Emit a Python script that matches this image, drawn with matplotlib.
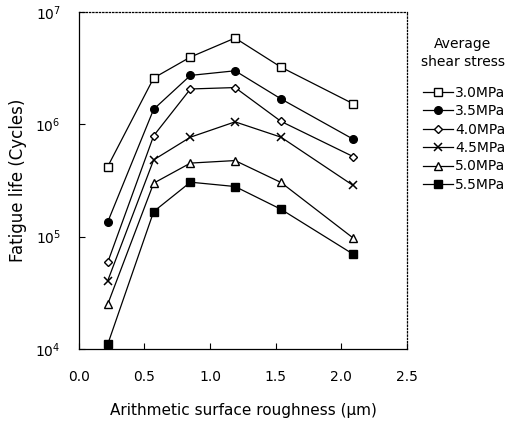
import matplotlib.pyplot as plt
from matplotlib.ticker import NullLocator, FixedLocator

# rugosidad media aritmetica (um)
roughness = [0.22, 0.57, 0.85, 1.19, 1.54, 2.09]

# vida a fatiga (ciclos) para cada tension cortante media
life_30 = [4.2e5, 2.58e6, 3.96e6, 5.85e6, 3.22e6, 1.52e6]
life_35 = [1.35e5, 1.36e6, 2.72e6, 2.99e6, 1.68e6, 7.36e5]
life_40 = [5.9e4, 7.9e5, 2.06e6, 2.12e6, 1.06e6, 5.15e5]
life_45 = [4.05e4, 4.82e5, 7.67e5, 1.05e6, 7.67e5, 2.85e5]
life_50 = [2.5e4, 2.99e5, 4.51e5, 4.75e5, 3.03e5, 9.7e4]
life_55 = [1.1e4, 1.67e5, 3.05e5, 2.79e5, 1.75e5, 6.97e4]

labels = ["3.0MPa", "3.5MPa", "4.0MPa", "4.5MPa", "5.0MPa", "5.5MPa"]
series = [life_30, life_35, life_40, life_45, life_50, life_55]

# estilo de marcador por serie
estilos = [
    dict(marker="s", ms=5.5, mfc="white"),
    dict(marker="o", ms=5.5, mfc="black"),
    dict(marker="D", ms=3.8, mfc="white"),
    dict(marker="x", ms=5.5, mew=1.1),
    dict(marker="^", ms=5.2, mfc="white"),
    dict(marker="s", ms=5.5, mfc="black"),
]

plt.rcParams["font.family"] = ["DejaVu Sans"]

fig = plt.figure(figsize=(5.12, 4.24), dpi=100)
ax = fig.add_axes([0.154, 0.177, 0.641, 0.795])

for vida, lab, est in zip(series, labels, estilos):
    ax.plot(roughness, vida, color="black", lw=0.9, mec="black",
            label=lab, **est)

ax.set_yscale("log")
ax.set_ylim(1e4, 1e7)
ax.set_xlim(0.0, 2.5)
ax.xaxis.set_major_locator(FixedLocator([0.0, 0.5, 1.0, 1.5, 2.0, 2.5]))
ax.set_xticklabels(["0.0", "0.5", "1.0", "1.5", "2.0", "2.5"])
ax.yaxis.set_minor_locator(NullLocator())

ax.tick_params(axis="both", direction="in", length=4, width=0.8,
               labelsize=10)
ax.tick_params(axis="x", pad=15)
ax.tick_params(axis="y", pad=13)

for lado in ["top", "right"]:
    ax.spines[lado].set_linestyle(":")
    ax.spines[lado].set_linewidth(0.9)
for lado in ["left", "bottom"]:
    ax.spines[lado].set_linewidth(0.9)

ax.set_xlabel("Arithmetic surface roughness (μm)", fontsize=11, labelpad=14)
ax.set_ylabel("Fatigue life (Cycles)", fontsize=12, labelpad=6)

# titulo de la leyenda aparte para controlar el hueco
fig.text(0.904, 0.876, "Average\nshear stress", ha="center", va="center",
         fontsize=10, linespacing=1.35)

fig.legend(loc="upper left", bbox_to_anchor=(0.826, 0.798),
           frameon=False, fontsize=10, handlelength=2.2, handletextpad=0.1,
           labelspacing=0.32, borderpad=0, borderaxespad=0)

fig.savefig("out.png", dpi=100)
